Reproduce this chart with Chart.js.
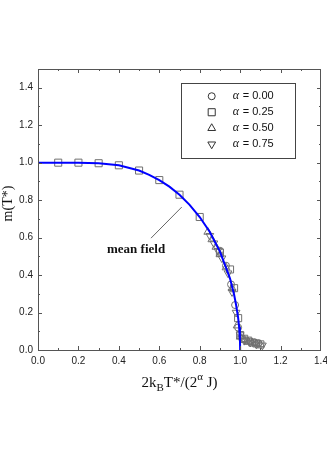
<!DOCTYPE html>
<html>
<head>
<meta charset="utf-8">
<script src="https://cdn.jsdelivr.net/npm/chart.js@4"></script>
<style>
  body { margin: 0; background: #fff; }
  #wrap { width: 327px; height: 470px; position: relative; }
</style>
</head>
<body>
<div id="wrap"><canvas id="myChart"></canvas></div>
<script>
// mean field curve m(t)
const mfT = [0, 0.1, 0.2, 0.3, 0.4, 0.5, 0.55, 0.6, 0.65, 0.7, 0.75, 0.8, 0.85, 0.9, 0.93, 0.95, 0.97, 0.98, 0.99, 0.995, 0.999, 1.0];
const mfM = [1.0, 1.0, 1.0, 0.997, 0.986, 0.958, 0.935, 0.907, 0.872, 0.829, 0.775, 0.710, 0.630, 0.525, 0.440, 0.381, 0.296, 0.240, 0.173, 0.122, 0.055, 0.0];

// simulation points
const a00X = [0.90, 0.93, 0.955, 0.975, 0.99, 1.01, 1.03, 1.05, 1.07, 1.09];
const a00Y = [0.53, 0.45, 0.35, 0.24, 0.12, 0.06, 0.05, 0.045, 0.04, 0.035];
const a25X = [0.1, 0.2, 0.3, 0.4, 0.5, 0.6, 0.7, 0.8, 0.9, 0.95, 0.97, 0.99, 1.0, 1.02, 1.04, 1.06, 1.08, 1.10];
const a25Y = [1.0, 1.0, 0.997, 0.986, 0.958, 0.907, 0.829, 0.71, 0.52, 0.43, 0.33, 0.17, 0.08, 0.06, 0.05, 0.04, 0.035, 0.03];
const a50X = [0.84, 0.86, 0.88, 0.90, 0.93, 0.96, 0.985, 1.0, 1.02, 1.04, 1.06, 1.08, 1.10];
const a50Y = [0.63, 0.59, 0.55, 0.51, 0.44, 0.33, 0.13, 0.07, 0.055, 0.045, 0.04, 0.035, 0.03];
const a75X = [0.85, 0.87, 0.89, 0.91, 0.94, 0.96, 0.98, 1.0, 1.02, 1.05, 1.08, 1.11];
const a75Y = [0.61, 0.57, 0.53, 0.49, 0.41, 0.31, 0.20, 0.08, 0.05, 0.04, 0.03, 0.025];

const legendLabels = ['0.00', '0.25', '0.50', '0.75'];
const legendStyles = ['circle', 'rect', 'triangle', 'triangle'];
const legendRot = [0, 0, 0, 180];
const legendRadius = [3.5, 5, 4.5, 4.5];

function pts(xs, ys) {
    return xs.map((x, i) => ({ x: x, y: ys[i] }));
}

const markerColor = '#707070';

const framePlugin = {
    id: 'frame',
    afterDraw(chart) {
        const ctx = chart.ctx;
        const a = chart.chartArea;
        const xs = chart.scales.x, ys = chart.scales.y;
        ctx.save();
        ctx.strokeStyle = '#555';
        ctx.lineWidth = 1;
        ctx.strokeRect(a.left + 0.5, a.top + 0.5, a.right - a.left - 1, a.bottom - a.top);
        ctx.beginPath();
        for (let i = 1; i < 14; i++) {
            const v = i / 10;
            const len = i % 2 === 0 ? 4 : 2;
            const px = Math.round(xs.getPixelForValue(v)) + 0.5;
            ctx.moveTo(px, a.bottom); ctx.lineTo(px, a.bottom - len);
            ctx.moveTo(px, a.top); ctx.lineTo(px, a.top + len);
        }
        for (let i = 1; i < 15; i++) {
            const v = i / 10;
            const len = i % 2 === 0 ? 4 : 2;
            const py = Math.round(ys.getPixelForValue(v)) + 0.5;
            ctx.moveTo(a.left, py); ctx.lineTo(a.left + len, py);
            ctx.moveTo(a.right, py); ctx.lineTo(a.right - len, py);
        }
        ctx.stroke();

        // legend box
        const bl = xs.getPixelForValue(0.706), br = xs.getPixelForValue(1.27);
        const bt = ys.getPixelForValue(1.424), bb = ys.getPixelForValue(1.024);
        ctx.strokeStyle = '#444';
        ctx.strokeRect(Math.round(bl) + 0.5, Math.round(bt) + 0.5, Math.round(br - bl), Math.round(bb - bt));
        for (let i = 0; i < 4; i++) {
            const yy = bt + 13 + i * 16;
            ctx.strokeStyle = '#333';
            ctx.fillStyle = 'rgba(0,0,0,0)';
            ctx.lineWidth = 1;
            Chart.helpers.drawPoint(ctx, {
                pointStyle: legendStyles[i], radius: legendRadius[i], rotation: legendRot[i], borderWidth: 1
            }, bl + 31, yy);
            ctx.fillStyle = '#111';
            ctx.textBaseline = 'middle';
            ctx.textAlign = 'left';
            ctx.font = 'italic 12px "Liberation Serif", serif';
            ctx.fillText('\u03b1', bl + 52, yy);
            ctx.font = '11px "Liberation Sans", Arial, sans-serif';
            ctx.fillText(' = ' + legendLabels[i], bl + 59, yy);
        }

        // mean field annotation
        ctx.strokeStyle = '#666';
        ctx.beginPath();
        ctx.moveTo(xs.getPixelForValue(0.559), ys.getPixelForValue(0.597));
        ctx.lineTo(xs.getPixelForValue(0.711), ys.getPixelForValue(0.763));
        ctx.stroke();
        ctx.fillStyle = '#111';
        ctx.font = 'bold 13px "Liberation Serif", serif';
        ctx.textAlign = 'center';
        ctx.textBaseline = 'alphabetic';
        ctx.fillText('mean field', xs.getPixelForValue(0.485), ys.getPixelForValue(0.52));

        // axis titles
        ctx.textAlign = 'left';
        const parts = [['2k', 15, 0], ['B', 11, 4], ['T*/(2', 15, 0], ['\u03b1', 11, -7], [' J)', 15, 0]];
        let total = 0;
        parts.forEach(p => { ctx.font = p[1] + 'px "Liberation Serif", serif'; total += ctx.measureText(p[0]).width; });
        let x0 = (a.left + a.right) / 2 - total / 2;
        const base = a.bottom + 37;
        parts.forEach(p => {
            ctx.font = p[1] + 'px "Liberation Serif", serif';
            ctx.fillText(p[0], x0, base + p[2]);
            x0 += ctx.measureText(p[0]).width;
        });

        ctx.translate(12, (a.top + a.bottom) / 2 - 6);
        ctx.rotate(-Math.PI / 2);
        ctx.textAlign = 'center';
        ctx.font = '14px "Liberation Serif", serif';
        ctx.fillText('m(T*)', 0, 0);
        ctx.restore();
    }
};

const ctx = document.getElementById('myChart').getContext('2d');
const myChart = new Chart(ctx, {
    type: 'scatter',
    data: {
        datasets: [
            { label: 'mean field', data: pts(mfT, mfM), showLine: true, borderColor: '#0000ff', borderWidth: 2, pointRadius: 0, tension: 0 },
            { label: 'a0', data: pts(a00X, a00Y), pointStyle: 'circle', pointRadius: 3.5, borderColor: markerColor, backgroundColor: 'rgba(0,0,0,0)', borderWidth: 1 },
            { label: 'a25', data: pts(a25X, a25Y), pointStyle: 'rect', pointRadius: 5, borderColor: markerColor, backgroundColor: 'rgba(0,0,0,0)', borderWidth: 1 },
            { label: 'a50', data: pts(a50X, a50Y), pointStyle: 'triangle', pointRadius: 4.5, borderColor: markerColor, backgroundColor: 'rgba(0,0,0,0)', borderWidth: 1 },
            { label: 'a75', data: pts(a75X, a75Y), pointStyle: 'triangle', rotation: 180, pointRadius: 4.5, borderColor: markerColor, backgroundColor: 'rgba(0,0,0,0)', borderWidth: 1 }
        ]
    },
    options: {
        responsive: true,
        maintainAspectRatio: false,
        animation: false,
        layout: { padding: { top: 69, right: 3, left: 0, bottom: 0 } },
        plugins: { legend: { display: false }, tooltip: { enabled: false } },
        scales: {
            x: {
                type: 'linear', min: 0, max: 1.4,
                grid: { display: false, drawTicks: false, tickLength: 0 }, border: { display: false },
                ticks: { stepSize: 0.2, padding: 5, color: '#222', maxRotation: 0,
                    font: { size: 10, family: '"Liberation Sans", Arial, sans-serif' },
                    callback: v => v.toFixed(1) },
                afterFit: s => { s.height = 120; s.paddingLeft = 0; s.paddingRight = 0; }
            },
            y: {
                type: 'linear', min: 0, max: 1.5,
                grid: { display: false, drawTicks: false, tickLength: 0 }, border: { display: false },
                ticks: { stepSize: 0.2, includeBounds: false, padding: 5, color: '#222',
                    font: { size: 10, family: '"Liberation Sans", Arial, sans-serif' },
                    callback: v => v.toFixed(1) },
                afterFit: s => { s.width = 38; s.paddingTop = 0; s.paddingBottom = 0; }
            }
        }
    },
    plugins: [framePlugin]
});
</script>
</body>
</html>
